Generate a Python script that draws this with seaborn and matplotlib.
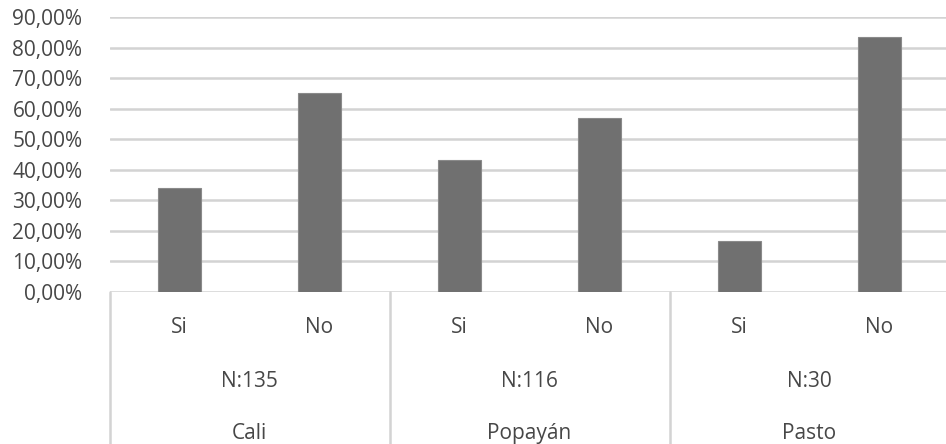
import matplotlib
matplotlib.use("Agg")
import matplotlib.pyplot as plt
import matplotlib.transforms as mtransforms
import seaborn as sns
import pandas as pd

# Survey share per city and answer
cities = ["Cali", "Popayán", "Pasto"]
sample_sizes = ["N:135", "N:116", "N:30"]
answers = ["Si", "No"]
values = {
    "Cali": [34.07, 65.19],
    "Popayán": [43.10, 56.90],
    "Pasto": [16.67, 83.33],
}
y_ticks = [0, 10, 20, 30, 40, 50, 60, 70, 80, 90]

rows = []
for city in cities:
    for ans, v in zip(answers, values[city]):
        rows.append({"key": f"{city}|{ans}", "city": city, "answer": ans, "pct": v})
df = pd.DataFrame(rows)

sns.set_theme(style="white")
plt.rcParams["font.family"] = ["Open Sans", "DejaVu Sans"]

text_color = "#474747"
line_color = "#d3d3d3"
bar_color = "#707070"
fs = 15

fig = plt.figure(figsize=(9.46, 4.44), dpi=100)
ax = fig.add_axes([0.1158, 0.3423, 1 - 0.1158, 0.9617 - 0.3423])

sns.barplot(data=df, x="key", y="pct", order=list(df["key"]), color=bar_color,
            width=0.31, saturation=1, ax=ax, zorder=3,
            edgecolor="#8a8a8a", linewidth=0.8)

ax.set_ylim(0, 90)
ax.set_xlim(-0.5, 5.475)
ax.set_yticks(y_ticks)
ax.set_yticklabels([f"{t},00%" for t in y_ticks], color=text_color, fontsize=fs)
ax.tick_params(axis="y", length=0, pad=19.5)
ax.set_xticks([])
ax.set_xlabel("")
ax.set_ylabel("")
for s in ax.spines.values():
    s.set_visible(False)
for t in y_ticks:
    ax.axhline(t, color=line_color, lw=1.8, zorder=1)

# Hierarchical category axis below the plot
trans = mtransforms.blended_transform_factory(ax.transData, fig.transFigure)
row_y = [1 - 327 / 444, 1 - 381 / 444, 1 - 433 / 444]
for gi, city in enumerate(cities):
    for ai, ans in enumerate(answers):
        ax.text(gi * 2 + ai, row_y[0], ans, transform=trans, ha="center", va="center",
                color=text_color, fontsize=fs)
    ax.text(gi * 2 + 0.5, row_y[1], sample_sizes[gi], transform=trans, ha="center",
            va="center", color=text_color, fontsize=fs)
    ax.text(gi * 2 + 0.5, row_y[2], city, transform=trans, ha="center", va="center",
            color=text_color, fontsize=fs)
for xb in [-0.5, 1.5, 3.5]:
    ax.plot([xb, xb], [0, 0.3423], transform=trans, color=line_color, lw=1.8,
            clip_on=False, zorder=1)

fig.savefig("out.png", dpi=100, facecolor="white")
